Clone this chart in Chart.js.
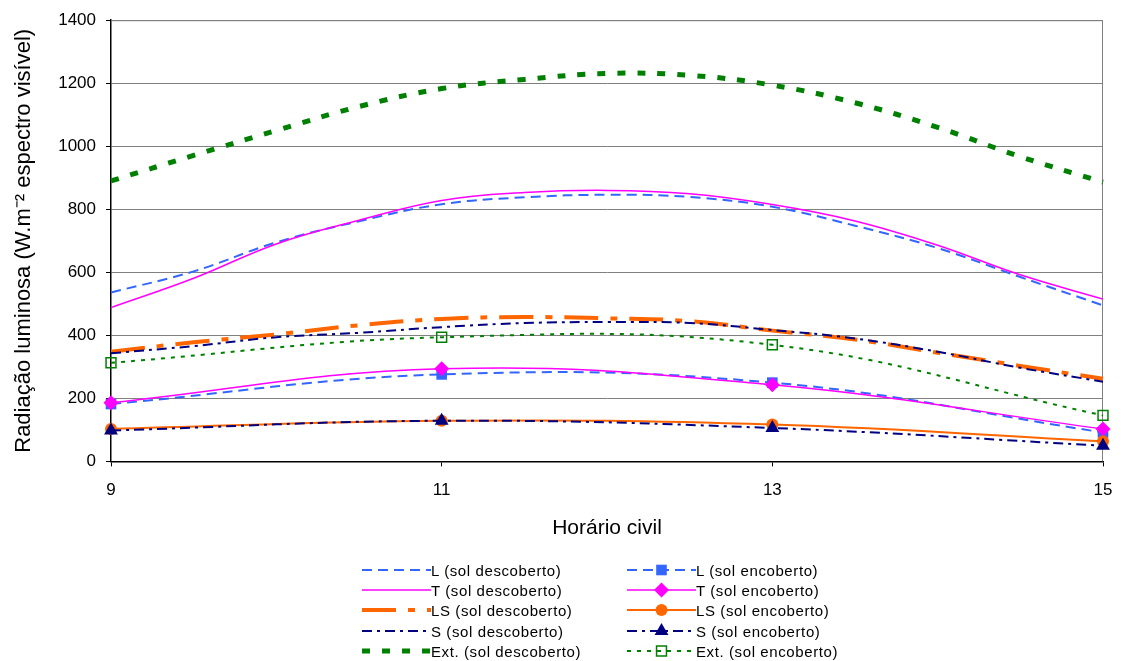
<!DOCTYPE html>
<html><head><meta charset="utf-8">
<script src="https://cdn.jsdelivr.net/npm/chart.js@4/dist/chart.umd.min.js"></script>
<style>
html,body{margin:0;padding:0;background:#fff;}
#wrap{position:relative;width:1127px;height:661px;overflow:hidden;}
#c{position:absolute;left:0;top:0;}
.item{position:absolute;height:18px;display:flex;align-items:center;font-family:"Liberation Sans",Arial,sans-serif;font-size:15px;letter-spacing:0.6px;color:#000;white-space:nowrap;}
.item canvas{display:block;}
</style></head><body>
<div id="wrap"><canvas id="c" width="1127" height="661"></canvas><div id="legend"></div></div>
<script>
// ---- data ----
const hoursDesc = [9, 9.5, 10, 10.5, 11, 11.5, 12, 12.5, 13, 13.5, 14, 14.5, 15];
const hoursEnc = [9, 11, 13, 15];
const L_desc   = [536, 603, 695, 762, 816, 838, 846, 839, 808, 748, 677, 585, 495];
const T_desc   = [488, 581, 690, 765, 828, 853, 860, 849, 815, 763, 686, 592, 515];
const LS_desc  = [348, 378, 403, 432, 452, 458, 454, 445, 415, 387, 345, 303, 262];
const S_desc   = [343, 366, 394, 408, 426, 439, 442, 439, 417, 390, 348, 297, 253];
const Ext_desc = [890, 971, 1050, 1126, 1183, 1212, 1231, 1225, 1194, 1138, 1060, 967, 886];
const L_enc   = [182, 276, 250, 92];
const T_enc   = [186, 294, 243, 103];
const LS_enc  = [103, 129, 117, 64];
const S_enc   = [98, 129, 106, 50];
const Ext_enc = [313, 394, 370, 146];
const seriesLabels = ["L (sol descoberto)", "L (sol encoberto)", "T (sol descoberto)", "T (sol encoberto)",
  "LS (sol descoberto)", "LS (sol encoberto)", "S (sol descoberto)", "S (sol encoberto)",
  "Ext. (sol descoberto)", "Ext. (sol encoberto)"];
const xTitle = "Horário civil";
const yTitle = "Radiação luminosa (W.m⁻² espectro visível)";

// ---- styles ----
const BLUE = "#3366FF", MAG = "#FF00FF", ORG = "#FF6600", NAVY = "#000080", GRN = "#008000";
const styles = [
  {c: BLUE, w: 2, dash: [10, 6], ps: false},
  {c: BLUE, w: 2, dash: [10, 6], ps: "rect", r: 7.5, fill: BLUE},
  {c: MAG, w: 1.5, dash: [], ps: false},
  {c: MAG, w: 1.5, dash: [], ps: "rectRot", r: 7.5, fill: MAG},
  {c: ORG, w: 4, dash: [34, 12, 7, 12], ps: false},
  {c: ORG, w: 2, dash: [], ps: "circle", r: 6, fill: ORG},
  {c: NAVY, w: 2, dash: [10, 5, 3, 5], ps: false},
  {c: NAVY, w: 2, dash: [10, 5, 3, 5], ps: "triangle", r: 8, fill: NAVY},
  {c: GRN, w: 5, dash: [8, 12], ps: false},
  {c: GRN, w: 2, dash: [4, 6], ps: "rect", r: 7, fill: "rgba(0,0,0,0)", bw: 1.5}
];
const seriesData = [L_desc, L_enc, T_desc, T_enc, LS_desc, LS_enc, S_desc, S_enc, Ext_desc, Ext_enc];

const datasets = seriesData.map((vals, i) => {
  const xs = (i % 2 === 0) ? hoursDesc : hoursEnc;
  const s = styles[i];
  return {
    label: seriesLabels[i],
    data: vals.map((v, k) => ({x: xs[k], y: v})),
    borderColor: s.c,
    borderWidth: s.w,
    borderDash: s.dash,
    backgroundColor: s.fill || s.c,
    pointStyle: s.ps || "circle",
    pointRadius: s.ps ? s.r : 0,
    pointBorderWidth: s.bw || 0,
    pointBorderColor: s.c,
    pointBackgroundColor: s.fill || s.c,
    tension: 0.4,
    fill: false,
    clip: false,
    order: -i
  };
});

const FONT = '"Liberation Sans", Arial, sans-serif';
Chart.defaults.font.family = FONT;
Chart.defaults.color = "#000";

const frame = {
  id: "frame",
  beforeDatasetsDraw(chart) {
    const a = chart.chartArea, ctx = chart.ctx;
    ctx.save();
    ctx.strokeStyle = "#808080";
    ctx.lineWidth = 1;
    ctx.beginPath();
    ctx.moveTo(a.left, a.top + 0.5);
    ctx.lineTo(a.right - 0.5, a.top + 0.5);
    ctx.lineTo(a.right - 0.5, a.bottom);
    ctx.stroke();
    ctx.restore();
  }
};

new Chart(document.getElementById("c"), {
  type: "line",
  data: {datasets},
  plugins: [frame],
  options: {
    responsive: false,
    animation: false,
    layout: {padding: {left: 7, right: 24, top: 17, bottom: 116}},
    plugins: {legend: {display: false}, tooltip: {enabled: false}},
    scales: {
      x: {
        type: "linear", min: 9, max: 15,
        ticks: {stepSize: 2, font: {size: 17}, padding: 14, color: "#000", callback: (v) => String(v)},
        grid: {drawOnChartArea: false, drawTicks: true, tickLength: 5, tickColor: "#000"},
        border: {display: true, color: "#000", width: 1.5},
        title: {display: true, text: xTitle, font: {size: 21}, color: "#000"},
        afterFit(s) { s.height = 83.6; }
      },
      y: {
        min: 0, max: 1400,
        ticks: {stepSize: 200, font: {size: 17}, padding: 10, color: "#000", callback: (v) => String(v)},
        grid: {color: (c) => (c.tick && c.tick.value === 0) ? "rgba(0,0,0,0)" : "#808080", lineWidth: 1, tickLength: 5, tickColor: "#000"},
        border: {display: true, color: "#000", width: 1.5},
        title: {display: true, text: yTitle, font: {size: 22}, color: "#000"},
        afterFit(s) { s.width = 104; }
      }
    }
  }
});

// ---- HTML legend ----
const legend = document.getElementById("legend");
const rowY = [570, 590, 610, 631, 651];
const colX = [362, 627];
seriesLabels.forEach((lab, i) => {
  const s = styles[i];
  const item = document.createElement("div");
  item.className = "item";
  item.style.left = colX[i % 2] + "px";
  item.style.top = (rowY[Math.floor(i / 2)] - 9) + "px";
  const cv = document.createElement("canvas");
  cv.width = 69; cv.height = 18;
  const ctx = cv.getContext("2d");
  ctx.strokeStyle = s.c;
  ctx.lineWidth = s.w;
  ctx.setLineDash(s.dash);
  ctx.beginPath(); ctx.moveTo(0, 9); ctx.lineTo(69, 9); ctx.stroke();
  if (s.ps) {
    ctx.setLineDash([]);
    ctx.fillStyle = s.fill;
    ctx.strokeStyle = s.c;
    ctx.lineWidth = s.bw || 0;
    Chart.helpers.drawPoint(ctx, {pointStyle: s.ps, radius: s.r, rotation: 0, borderWidth: s.bw || 0}, 34.5, 9);
  }
  const sp = document.createElement("span");
  sp.textContent = lab;
  item.appendChild(cv); item.appendChild(sp);
  legend.appendChild(item);
});
</script>
</body></html>
